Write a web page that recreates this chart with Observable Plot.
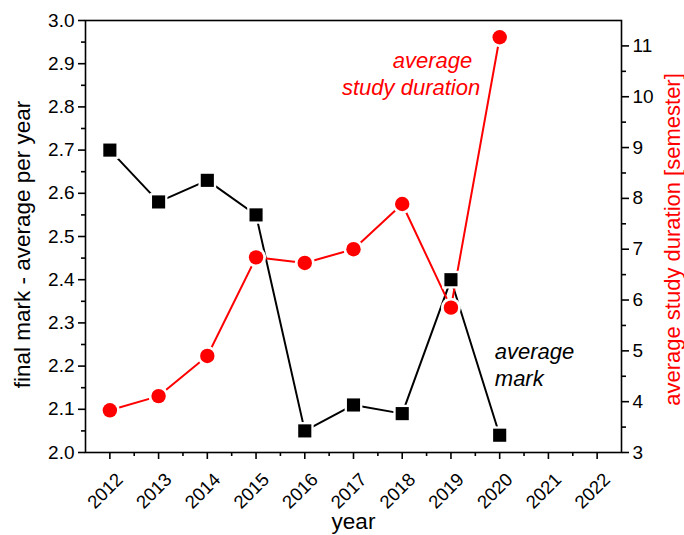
<!DOCTYPE html>
<html>
<head>
<meta charset="utf-8">
<script src="https://cdn.jsdelivr.net/npm/d3@7"></script>
<script src="https://cdn.jsdelivr.net/npm/@observablehq/plot@0.6"></script>
<style>
  body { margin: 0; background: #fff; }
</style>
</head>
<body>
<div id="chart"></div>
<script>
const years = [2012, 2013, 2014, 2015, 2016, 2017, 2018, 2019, 2020]
const avgMark = [2.70, 2.58, 2.63, 2.55, 2.05, 2.11, 2.09, 2.40, 2.04]
const avgDuration = [3.83, 4.11, 4.90, 6.84, 6.73, 7.00, 7.89, 5.85, 11.17]

const yearTicks = d3.range(2012, 2023)
const markTicks = d3.range(20, 31).map(d => d / 10)
const durationTicks = d3.range(3, 12)

// right axis (3 .. 11.5 semester) gets folded onto the left scale (2 .. 3)
const toLeft = v => 2 + (v - 3) / 8.5
const fromLeft = y => 3 + (y - 2) * 8.5

let marks = years.map((year, i) => ({year, mark: avgMark[i]}))
let durations = years.map((year, i) => ({year, dur: toLeft(avgDuration[i])}))

const font = "Liberation Sans, Arial, sans-serif"

let chart = Plot.plot({
  width: 684,
  height: 535,
  marginLeft: 85,
  marginRight: 63,
  marginTop: 20,
  marginBottom: 83,
  style: {fontFamily: font, color: "black", background: "white"},
  x: {domain: [2011.5, 2022.5]},
  y: {domain: [2, 3]},
  marks: [
    Plot.frame({stroke: "black", strokeWidth: 1.6}),
    // x axis: tick lines, minor ticks, then the rotated labels on their own
    Plot.axisX(yearTicks, {tickSize: 7, strokeWidth: 1.6, tickFormat: () => "", label: null}),
    Plot.axisX(d3.range(2012.5, 2022, 1), {tickSize: 4, strokeWidth: 1.6, tickFormat: () => "", label: null}),
    Plot.axisX(yearTicks, {tickSize: 0, tickRotate: -45, tickFormat: d => String(d), fontSize: 18.5, tickPadding: 11, dx: 10, dy: 13, label: null}),
    // left axis
    Plot.axisY(markTicks, {anchor: "left", tickSize: 7, strokeWidth: 1.6, tickFormat: d3.format(".1f"), fontSize: 19, tickPadding: 4, label: null}),
    Plot.axisY(d3.range(2.05, 3, 0.1), {anchor: "left", tickSize: 4, strokeWidth: 1.6, tickFormat: () => "", label: null}),
    // right axis
    Plot.axisY(durationTicks.map(toLeft), {anchor: "right", tickSize: 7, strokeWidth: 1.6, tickFormat: d => String(Math.round(fromLeft(d))), fontSize: 19, tickPadding: 4, label: null}),
    Plot.axisY(d3.range(3.5, 11, 1).map(toLeft), {anchor: "right", tickSize: 4, strokeWidth: 1.6, tickFormat: () => "", label: null}),

    Plot.line(marks, {x: "year", y: "mark", stroke: "black", strokeWidth: 2}),
    Plot.line(durations, {x: "year", y: "dur", stroke: "red", strokeWidth: 2}),
    // white halos so lines stop short of the markers
    Plot.dot(marks, {x: "year", y: "mark", symbol: "square", r: 10, fill: "white"}),
    Plot.dot(durations, {x: "year", y: "dur", r: 10, fill: "white"}),
    Plot.dot(marks, {x: "year", y: "mark", symbol: "square", r: 7.4, fill: "black"}),
    Plot.dot(durations, {x: "year", y: "dur", r: 7.2, fill: "red"}),

    // annotations
    Plot.text(["average"], {x: 2019.6, y: 2.874, dx: -8, dy: -13.5, textAnchor: "end", fill: "red", fontSize: 22, fontStyle: "italic"}),
    Plot.text(["study duration"], {x: 2019.6, y: 2.874, dy: 13.5, textAnchor: "end", fill: "red", fontSize: 22, fontStyle: "italic"}),
    Plot.text(["average\nmark"], {x: 2019.9, y: 2.205, textAnchor: "start", fill: "black", fontSize: 22, fontStyle: "italic", lineHeight: 1.22}),

    // axis titles
    Plot.text(["final mark - average per year"], {frameAnchor: "left", textAnchor: "middle", dx: -63, dy: 8, rotate: -90, fontSize: 22.5, fill: "black"}),
    Plot.text(["average study duration [semester]"], {frameAnchor: "right", textAnchor: "middle", dx: 51, dy: 3, rotate: -90, fontSize: 22, fill: "red"}),
    Plot.text(["year"], {frameAnchor: "bottom", dy: 76, fontSize: 22.5, fill: "black"})
  ]
})

d3.select("#chart").append(() => chart)
</script>
</body>
</html>
